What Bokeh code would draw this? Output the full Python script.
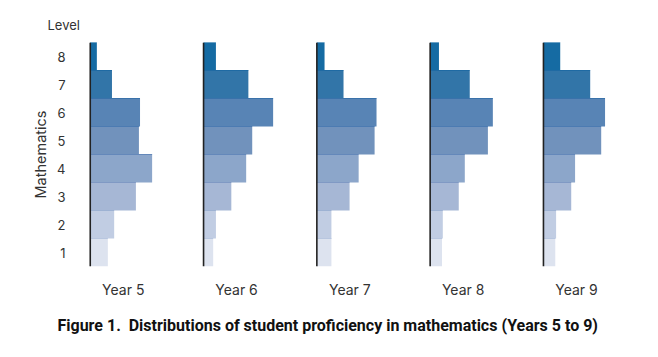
from bokeh.plotting import figure
from bokeh.models import Range1d, FixedTicker, Title, ColumnDataSource
from bokeh.embed import file_html
from bokeh.resources import INLINE

levels = [1, 2, 3, 4, 5, 6, 7, 8]
years = ["Year 5", "Year 6", "Year 7", "Year 8", "Year 9"]
# estimated shares (%) of students at each level, levels 1..8
year5 = [6.4, 8.7, 16.6, 22.5, 17.7, 18.1, 7.9, 2.4]
year6 = [3.5, 4.5, 10.1, 15.5, 17.7, 25.3, 16.3, 4.5]
year7 = [5.3, 5.3, 11.9, 15.2, 21.0, 21.7, 9.7, 2.8]
year8 = [4.3, 4.6, 10.4, 12.6, 21.0, 22.8, 14.4, 3.2]
year9 = [4.3, 4.6, 10.1, 11.5, 21.0, 22.4, 17.0, 6.1]
series = [year5, year6, year7, year8, year9]

fill_colors = ["#dde3ef", "#c1cde3", "#a6b7d5", "#8ca6ca", "#7192bc", "#5884b5", "#3275a8", "#156ba3"]
edge_colors = ["#b8c6df", "#9db2d3", "#8099c4", "#6488ba", "#4c7bb2", "#3a72aa", "#1f6aa3", "#156ba3"]

spacing = 41.2
label_shift = 12.0

p = figure(width=658, height=357, output_backend="svg", toolbar_location=None,
           x_range=Range1d(-1, 203), y_range=Range1d(0.5, 8.5),
           min_border_left=87, min_border_right=10, min_border_top=42, min_border_bottom=91)

for i, vals in enumerate(series):
    off = i * spacing
    src = ColumnDataSource(dict(y=levels, left=[off] * 8, right=[off + v for v in vals],
                                fill=fill_colors, edge=edge_colors,
                                top=[l + 0.5 for l in levels]))
    p.hbar(y="y", left="left", right="right", height=1.0, fill_color="fill",
           line_color=None, source=src)
    p.segment(x0="left", x1="right", y0="top", y1="top", line_color="edge",
              line_width=1, source=src)
    p.segment(x0=[off], x1=[off], y0=[0.5], y1=[8.5], line_color="#222222", line_width=1.6)

p.grid.visible = False
p.outline_line_color = None

ya = p.yaxis[0]
ya.ticker = FixedTicker(ticks=levels)
ya.axis_line_color = None
ya.major_tick_line_color = None
ya.minor_tick_line_color = None
ya.major_label_standoff = 16
ya.major_label_text_font = "Inter"
ya.major_label_text_font_size = "13px"
ya.major_label_text_color = "#333333"
ya.axis_label = "Mathematics"
ya.axis_label_standoff = 5
ya.axis_label_text_font = "Inter"
ya.axis_label_text_font_style = "normal"
ya.axis_label_text_font_size = "14.5px"
ya.axis_label_text_color = "#333333"

xa = p.xaxis[0]
ticks = [i * spacing + label_shift for i in range(len(years))]
xa.ticker = FixedTicker(ticks=ticks)
xa.major_label_overrides = {t: y for t, y in zip(ticks, years)}
xa.axis_line_color = None
xa.major_tick_line_color = None
xa.minor_tick_line_color = None
xa.major_label_standoff = 8
xa.major_label_text_font = "Inter"
xa.major_label_text_font_size = "14px"
xa.major_label_text_color = "#333333"

p.add_layout(Title(text="Figure 1.\u00a0 Distributions of student proficiency in mathematics (Years 5 to 9)",
                   align="left", offset=-30, text_font="Roboto", text_font_size="16px",
                   text_font_style="bold", text_color="#111111", standoff=27), "below")

p.add_layout(Title(text="Level", align="left", offset=-40, text_font="Inter",
                   text_font_size="13px", text_font_style="normal", text_color="#333333",
                   standoff=19), "above")

open("out.html", "w").write(file_html(p, INLINE))
